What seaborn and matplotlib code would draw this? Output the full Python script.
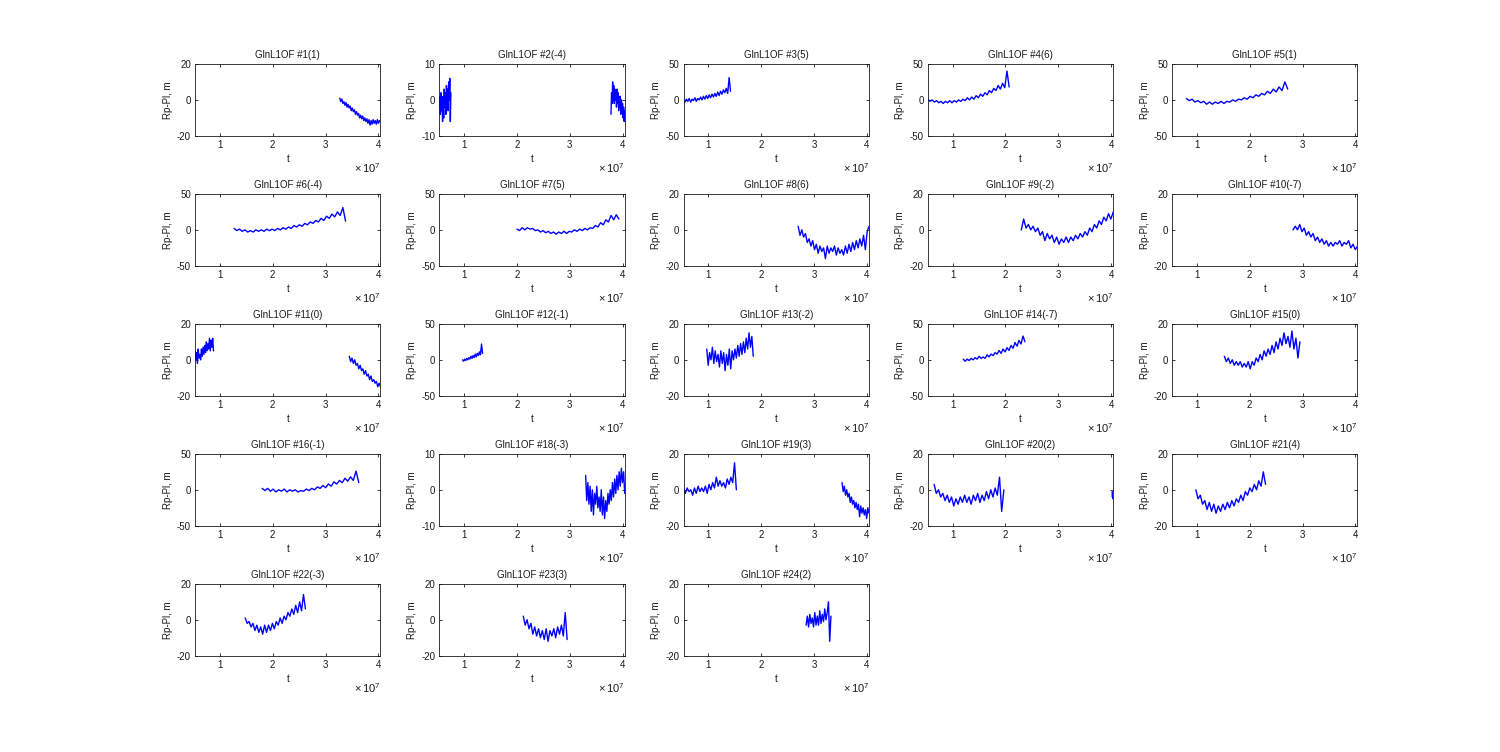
import numpy as np
import pandas as pd
import matplotlib
matplotlib.use("Agg")
import matplotlib.pyplot as plt
import seaborn as sns

# ---------------- data ----------------
titles = ["GlnL1OF #1(1)", "GlnL1OF #2(-4)", "GlnL1OF #3(5)", "GlnL1OF #4(6)", "GlnL1OF #5(1)",
          "GlnL1OF #6(-4)", "GlnL1OF #7(5)", "GlnL1OF #8(6)", "GlnL1OF #9(-2)", "GlnL1OF #10(-7)",
          "GlnL1OF #11(0)", "GlnL1OF #12(-1)", "GlnL1OF #13(-2)", "GlnL1OF #14(-7)", "GlnL1OF #15(0)",
          "GlnL1OF #16(-1)", "GlnL1OF #18(-3)", "GlnL1OF #19(3)", "GlnL1OF #20(2)", "GlnL1OF #21(4)",
          "GlnL1OF #22(-3)", "GlnL1OF #23(3)", "GlnL1OF #24(2)"]
ylims = [20, 10, 50, 50, 50, 50, 50, 20, 20, 20, 20, 50, 20, 50, 20, 50, 10, 20, 20, 20, 20, 20, 20]
xticks = [1, 2, 3, 4]
xtick_labels = ["1", "2", "3", "4"]
xlim = (0.53, 4.04)

y01 = [1, -1, 0.5, -2, -1, -3, -1.5, -4, -2.5, -4.5, -3.5, -6, -4.5, -6.5, -5.5, -8, -6.5, -8.5, -7.5, -10,
       -8.5, -10.5, -9, -11.5, -10, -12, -10.5, -13, -11, -14, -11.5, -13.5, -11, -13, -11.5, -13.5, -11, -13, -11.5, -12.5]
y02a = [-2, 1, -4, 2, -3, 0, -6, 1, -5, 3, -2, 2, -4, 4, -1, 3, -3, 5, 0, 6, -6, 2]
y02b = [-4, 2, -1, 5, 0, 4, -1, 3, 0, 2, -2, 3, -1, 2, -3, 1, -2, 1, -4, 0, -3, -1, -5, -2, -6, -3]
y03 = [0, -3, 1, -2, 2, -3, 1, -1, 3, -2, 2, 0, 4, 0, 5, 1, 6, 2, 7, 3, 8, 4, 9, 5, 11, 6, 12, 8, 14, 10, 16, 9, 31, 12]
y04 = [1, -2, 0, -3, -1, -4, -2, -5, -2, -4, -1, -4, -1, -3, 0, -2, 1, -1, 3, 0, 4, 1, 6, 3, 8, 5, 10, 7,
       13, 10, 16, 13, 20, 15, 23, 17, 40, 18]
y05 = [2, -1, 1, -3, -1, -4, -2, -6, -3, -6, -3, -5, -2, -5, -2, -3, 0, -2, 1, 0, 3, 1, 5, 3, 7, 5, 9, 7,
       12, 9, 15, 11, 18, 13, 25, 15]
y06 = [2, -1, 1, -2, 0, -3, -1, -3, 0, -2, 0, -2, 1, -1, 1, -1, 2, 0, 3, 1, 4, 2, 6, 4, 7, 5, 9, 7, 11, 9,
       13, 11, 16, 13, 19, 16, 22, 18, 25, 20, 31, 12]
y07 = [1, -1, 3, 0, 3, 1, 2, -1, 0, -3, -1, -4, -2, -5, -3, -6, -3, -5, -2, -5, -2, -3, 0, -2, 1, -1, 2, 0,
       3, 2, 6, 4, 10, 7, 14, 11, 20, 14, 21, 15]
y08 = [2, -3, 0, -4, -2, -7, -5, -9, -6, -11, -8, -13, -9, -12, -10, -16, -9, -13, -10, -12, -9, -14, -10, -13,
       -11, -14, -9, -13, -8, -12, -7, -11, -6, -10, -5, -9, -3, -11, -1, 2]
y09 = [0, 6, 1, 3, 0, 2, -1, 1, -3, -1, -6, -2, -5, -3, -7, -4, -8, -5, -7, -4, -7, -4, -6, -3, -5, -2, -4, -1,
       -3, 1, -1, 3, 1, 5, 3, 7, 5, 9, 6, 10]
y10 = [0, 2, 0, 3, -1, 1, -3, -1, -4, -2, -6, -4, -7, -5, -8, -6, -9, -7, -9, -7, -8, -6, -9, -7, -8, -6,
       -10, -8, -11, -9]
y11a = [5, 0, 4, -2, 6, 1, 3, 0, 6, 2, 7, 3, 8, 4, 10, 5, 9, 6, 12, 5, 11, 7, 12, 5]
y11b = [2, -1, 1, -2, 0, -3, -2, -5, -3, -6, -5, -8, -6, -9, -8, -11, -9, -12, -11, -13, -12, -15, -13, -15]
y12 = [0, -2, 1, -1, 2, 0, 3, 1, 5, 2, 6, 3, 8, 4, 9, 6, 11, 7, 22, 9]
y13 = [6, -3, 4, 0, 7, -2, 5, -1, 3, -4, 5, -2, 4, -6, 3, -3, 6, -5, 5, 0, 6, 1, 8, 2, 9, 3, 10, 4, 12, 6,
       15, 7, 13, 2]
y14 = [1, -2, 1, -1, 2, 0, 3, 1, 5, 2, 4, 2, 7, 4, 8, 6, 10, 8, 13, 9, 15, 11, 17, 13, 20, 16, 24, 19, 27, 22, 33, 25]
y15 = [2, -1, 1, -2, 0, -3, -1, -3, -1, -4, -2, -4, -1, -5, -1, -3, 1, -1, 3, 0, 5, 2, 6, 3, 8, 4, 10, 6,
       12, 8, 15, 9, 13, 7, 16, 6, 12, 1, 10]
y16 = [2, -1, 2, -2, 1, -3, 0, -2, 1, -3, 0, -2, 0, -3, -1, -2, 1, -1, 2, 0, 4, 2, 6, 3, 8, 5, 11, 8, 13, 10,
       16, 12, 18, 13, 26, 10]
y18 = [4, -3, 2, -4, 1, -6, 0, -7, -1, -4, 1, -5, -2, -6, 0, -7, -2, -8, -3, -6, -1, -4, 0, -3, 2, -2, 3, -1,
       4, 0, 5, 1, 6, 2, 5, -1]
y19a = [1, -2, 1, -1, 0, -3, 1, -2, 2, -1, 1, -1, 2, -2, 3, 0, 4, 1, 7, 2, 5, 2, 4, 1, 6, 3, 7, 4, 15, 0]
y19b = [4, -1, 2, -3, 0, -4, -2, -7, -4, -8, -6, -10, -7, -11, -8, -15, -9, -13, -10, -14, -11, -16, -10, -13]
y20a = [3, -2, 0, -4, -2, -6, -3, -7, -4, -9, -5, -8, -4, -7, -3, -7, -4, -8, -3, -6, -2, -7, -3, -6, -1, -5,
        0, -4, 1, -3, 7, -12, 0]
y20b = [-1, -4, -2, -5, -3]
y21 = [0, -5, -3, -8, -6, -11, -7, -12, -8, -13, -9, -12, -8, -11, -7, -10, -6, -9, -5, -7, -3, -6, -1, -3,
       1, -1, 3, 0, 5, 2, 10, 3]
y22 = [1, -2, -1, -4, -2, -6, -3, -7, -4, -8, -3, -7, -3, -6, -2, -5, -1, -3, 1, -2, 2, 0, 4, 2, 6, 3, 8, 4,
       10, 5, 14, 6]
y23 = [2, -3, 0, -5, -2, -8, -4, -9, -5, -10, -6, -11, -5, -12, -6, -9, -5, -10, -4, -8, -3, -9, 4, -11]
y24 = [-3, 2, -4, 3, -2, 1, -4, 4, -3, 2, -3, 5, -2, 3, -1, 6, 0, 4, 10, -12, 2]

# time spans (x 1e7) of each segment, and the values of each segment
t_spans = [[(3.27, 4.04)], [(0.53, 0.75), (3.78, 4.04)], [(0.53, 1.42)], [(0.53, 2.07)], [(0.80, 2.72)],
           [(1.27, 3.38)], [(2.00, 3.93)], [(2.70, 4.04)], [(2.30, 4.04)], [(2.82, 4.04)],
           [(0.53, 0.88), (3.45, 4.04)], [(0.97, 1.35)], [(0.97, 1.85)], [(1.20, 2.37)], [(1.52, 2.95)],
           [(1.80, 3.63)], [(3.30, 4.04)], [(0.53, 1.53), (3.53, 4.04)], [(0.65, 1.97), (4.02, 4.04)],
           [(0.98, 2.30)], [(1.48, 2.62)], [(2.12, 2.95)], [(2.85, 3.32)]]
y_series = [[y01], [y02a, y02b], [y03], [y04], [y05], [y06], [y07], [y08], [y09], [y10],
            [y11a, y11b], [y12], [y13], [y14], [y15], [y16], [y18], [y19a, y19b], [y20a, y20b],
            [y21], [y22], [y23], [y24]]

# ---------------- style ----------------
sns.set_theme(style="ticks")
plt.rcParams["font.family"] = ["Liberation Sans", "DejaVu Sans"]
plt.rcParams["mathtext.fontset"] = "custom"
plt.rcParams["mathtext.rm"] = "Liberation Sans"
plt.rcParams["mathtext.it"] = "Liberation Sans"
FS = 7
TXT = "#1a1a1a"

fig, axes = plt.subplots(5, 5, figsize=(15, 7.52), dpi=100)
fig.subplots_adjust(left=0.13, right=0.905, top=0.915, bottom=0.128, wspace=0.317, hspace=0.806)
axes = axes.ravel()

for i, ax in enumerate(axes):
    if i >= len(titles):
        ax.set_visible(False)
        continue
    rows = []
    for k, ((t0, t1), yv) in enumerate(zip(t_spans[i], y_series[i])):
        tt = np.linspace(t0, t1, len(yv)) * 1e7
        for tv, v in zip(tt, yv):
            rows.append({"t": tv, "y": v, "seg": k})
    df = pd.DataFrame(rows)
    sns.lineplot(data=df, x="t", y="y", units="seg", estimator=None, sort=False,
                 color="#0000ff", linewidth=1.0, ax=ax, legend=False)
    lim = ylims[i]
    ax.set_xlim(xlim[0] * 1e7, xlim[1] * 1e7)
    ax.set_ylim(-lim, lim)
    ax.set_yticks([-lim, 0, lim])
    ax.set_yticklabels([str(-lim), "0", str(lim)], fontsize=FS)
    ax.set_xticks([v * 1e7 for v in xticks])
    ax.set_xticklabels(xtick_labels, fontsize=FS)
    ax.tick_params(direction="in", top=True, right=True, length=2.5, width=0.6, pad=3, colors=TXT)
    for s in ax.spines.values():
        s.set_visible(True)
        s.set_linewidth(0.6)
        s.set_color(TXT)
    ax.set_title(titles[i], fontsize=FS, pad=4, color=TXT)
    ax.set_xlabel("t", fontsize=FS, labelpad=3, color=TXT)
    ax.set_ylabel("Rp-Pl, m", fontsize=FS, labelpad=3, color=TXT)
    ax.text(1.0, -0.45, r"$\times\,10^{7}$", transform=ax.transAxes, ha="right", va="center",
            fontsize=8, color=TXT)

fig.savefig("out.png", dpi=100)
